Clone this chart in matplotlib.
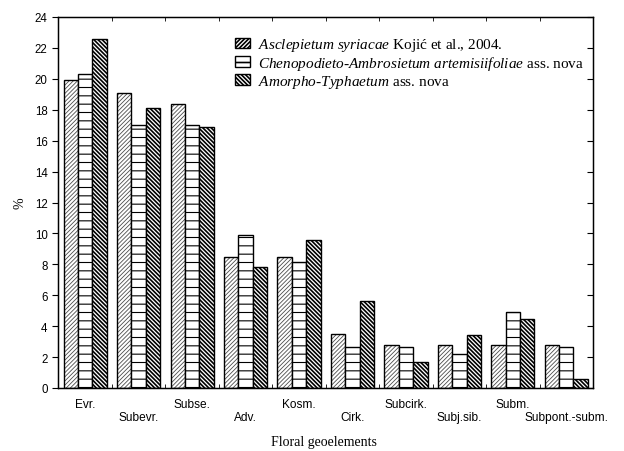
import numpy as np
import matplotlib
matplotlib.use("Agg")
import matplotlib.pyplot as plt
from matplotlib.patches import Patch

# Floral geoelements (%) for three associations
categories = ["Evr.", "Subevr.", "Subse.", "Adv.", "Kosm.", "Cirk.",
              "Subcirk.", "Subj.sib.", "Subm.", "Subpont.-subm."]
asclepietum = [19.9, 19.1, 18.4, 8.5, 8.5, 3.5, 2.75, 2.75, 2.75, 2.75]
chenopodieto = [20.3, 17.0, 17.0, 9.9, 8.15, 2.65, 2.65, 2.2, 4.9, 2.65]
amorpho = [22.6, 18.1, 16.9, 7.85, 9.55, 5.6, 1.7, 3.4, 4.45, 0.55]

labels = [r"$\mathit{Asclepietum\ syriacae}$ Kojić et al., 2004.",
          r"$\mathit{Chenopodieto}$-$\mathit{Ambrosietum\ artemisiifoliae}$ ass. nova",
          r"$\mathit{Amorpho}$-$\mathit{Typhaetum}$ ass. nova"]

plt.rcParams["mathtext.fontset"] = "custom"
plt.rcParams["mathtext.it"] = "Liberation Serif:italic"
plt.rcParams["mathtext.rm"] = "Liberation Serif"

series = [asclepietum, chenopodieto, amorpho]
hatches = ["////////", "--", "\\" * 8]
hatch_colors = ["0.3", "black", "black"]
hatch_lw = [0.6, 0.8, 1.2]

fig = plt.figure(figsize=(6.24, 4.52), dpi=100)
ax = fig.add_axes([58 / 624, 1 - 389 / 452, 535 / 624, 371 / 452])

x = np.arange(len(categories))
w = 0.27
for i, vals in enumerate(series):
    pos = x + (i - 1) * w
    plt.rcParams["hatch.linewidth"] = hatch_lw[i]
    ax.bar(pos, vals, w, color="white", edgecolor=hatch_colors[i],
           hatch=hatches[i], linewidth=0)
    ax.bar(pos, vals, w, fill=False, edgecolor="black", linewidth=1.0)

ax.set_xlim(-0.51, 9.5)
ax.set_ylim(0, 24)
ax.set_yticks(np.arange(0, 25, 2))

# category labels on two staggered rows
ax.set_xticks(x)
ax.set_xticklabels([])
ax.tick_params(axis="x", which="major", length=0)
for i, c in enumerate(categories):
    ax.text(x[i], -0.043 if i % 2 == 0 else -0.079, c,
            transform=ax.get_xaxis_transform(), ha="center", va="center",
            family="Liberation Sans", fontsize=8.6)

ax.set_xticks(np.arange(0.5, 9.5, 1), minor=True)
ax.tick_params(axis="x", which="minor", length=3, direction="in", top=True)
ax.tick_params(axis="y", which="major", length=4, direction="out")
for t in ax.get_yticklabels():
    t.set_family("Liberation Sans")
    t.set_fontsize(8.3)

# inward ticks on the right side
ax2 = ax.twinx()
ax2.set_ylim(0, 24)
ax2.set_yticks(np.arange(0, 25, 2))
ax2.tick_params(axis="y", direction="in", length=4, labelright=False)

for s in ax.spines.values():
    s.set_linewidth(1.0)

fig.text(324 / 624, 1 - 443 / 452, "Floral geoelements", ha="center", va="center",
         family="Liberation Serif", fontsize=10)
ax.set_ylabel("%", family="Liberation Serif", fontsize=10, labelpad=6)

handles = []
for i in range(3):
    plt.rcParams["hatch.linewidth"] = hatch_lw[i]
    handles.append(Patch(facecolor="white", edgecolor="black",
                         hatch=hatches[i], linewidth=1.0))
ax.legend(handles, labels, loc="upper left", bbox_to_anchor=(0.305, 0.985),
          frameon=False, prop={"family": "Liberation Serif", "size": 11},
          handlelength=1.0, handleheight=0.7, handletextpad=0.5,
          labelspacing=0.05)

fig.savefig("out.png", dpi=100)
